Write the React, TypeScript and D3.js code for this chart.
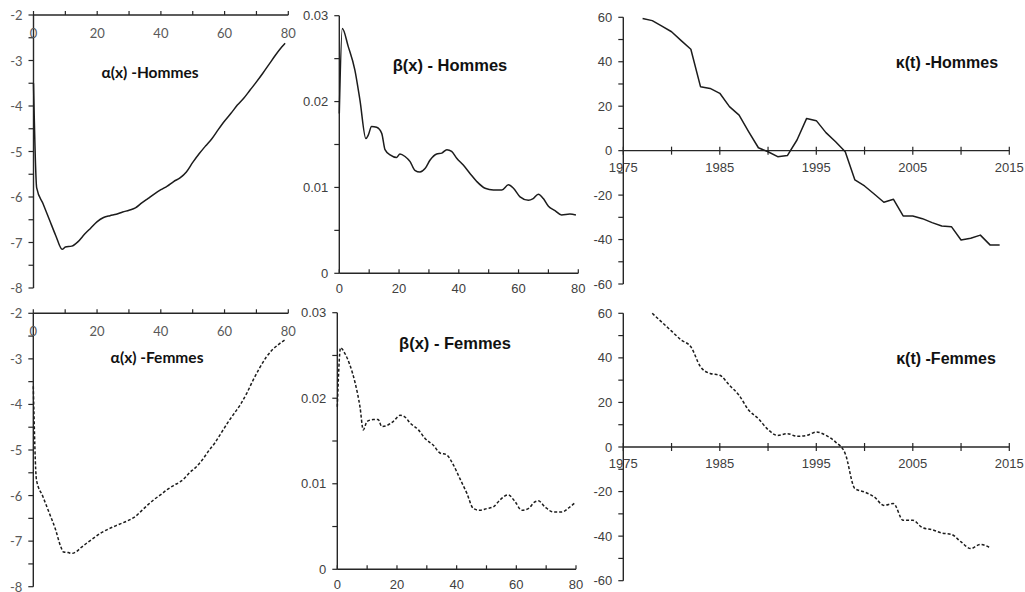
import React from "react";
import * as d3 from "d3";

// alpha(x) : log-mortalite moyenne par age
const alphaAgesH = [0, 1, 3, 5, 7, 9, 10, 12, 14, 16, 18, 20, 22, 24, 26, 28, 30, 32, 34, 36, 38, 40, 42, 44, 46, 48, 50, 52, 54, 56, 58, 60, 62, 64, 66, 68, 70, 72, 74, 76, 78, 79];
const alphaHommes = [-3.5, -5.8, -6.15, -6.5, -6.85, -7.15, -7.1, -7.08, -6.98, -6.82, -6.68, -6.54, -6.45, -6.41, -6.38, -6.33, -6.29, -6.24, -6.13, -6.03, -5.93, -5.84, -5.76, -5.66, -5.58, -5.45, -5.24, -5.05, -4.88, -4.72, -4.52, -4.33, -4.16, -3.98, -3.83, -3.65, -3.47, -3.28, -3.08, -2.88, -2.7, -2.62];
const alphaAgesF = [0, 1, 3, 5, 7, 8.5, 9.5, 11, 12, 13.5, 15, 17, 19, 21, 24, 27, 30, 32, 34, 36, 38, 40, 42, 44, 46, 47, 49, 51, 53, 55, 57, 59, 61, 63, 65, 67, 69, 71, 73, 75, 77, 79];
const alphaFemmes = [-3.6, -5.66, -6.02, -6.38, -6.75, -7.1, -7.24, -7.25, -7.27, -7.23, -7.14, -7.03, -6.93, -6.83, -6.72, -6.63, -6.54, -6.46, -6.33, -6.2, -6.08, -5.98, -5.87, -5.78, -5.7, -5.65, -5.5, -5.38, -5.22, -5.02, -4.84, -4.62, -4.4, -4.2, -4.0, -3.75, -3.46, -3.2, -2.97, -2.8, -2.68, -2.58];

// beta(x) : sensibilite par age
const betaAgesH = [0, 1, 3, 5.2, 6.9, 8.9, 9.7, 10.8, 12.5, 14.2, 15.3, 17, 19.2, 20.3, 22, 23.7, 25.3, 27, 28.7, 30.4, 32.6, 34.3, 36, 37.6, 39.3, 41.5, 43.8, 46, 48.8, 51.6, 54.4, 56.6, 58.3, 60.5, 63.3, 64.9, 66.6, 68.3, 70, 72.2, 74.4, 77.2, 79.2];
const betaHommes = [0.0186, 0.0285, 0.0264, 0.0237, 0.0202, 0.0157, 0.0161, 0.0171, 0.017, 0.0163, 0.0144, 0.0138, 0.0135, 0.0139, 0.0136, 0.013, 0.012, 0.0118, 0.0122, 0.0132, 0.0139, 0.014, 0.0144, 0.0142, 0.0134, 0.0126, 0.0116, 0.0107, 0.0099, 0.0097, 0.0097, 0.0103, 0.0099, 0.0089, 0.0085, 0.0087, 0.0092, 0.0087, 0.0078, 0.0073, 0.0068, 0.0069, 0.0068];
const betaAgesF = [0, 1.1, 2.6, 4.2, 5.9, 7.6, 8.7, 10, 12, 13.7, 14.9, 16.5, 18.8, 21, 22.7, 24.4, 27.2, 29.4, 32.2, 34.4, 36.6, 38.9, 41.1, 43.4, 45.6, 47.8, 50.1, 52.3, 54.5, 57.3, 59.6, 61.8, 64, 66.3, 67.4, 69.6, 72.4, 75.2, 78, 79.7];
const betaFemmes = [0.019, 0.0259, 0.0252, 0.0239, 0.0219, 0.019, 0.0163, 0.0173, 0.0175, 0.0175, 0.0167, 0.0168, 0.0173, 0.018, 0.0178, 0.0171, 0.0163, 0.0153, 0.0145, 0.0136, 0.0134, 0.0122, 0.0106, 0.0089, 0.0071, 0.0069, 0.0071, 0.0073, 0.0081, 0.0087, 0.0079, 0.0069, 0.0071, 0.0079, 0.008, 0.0073, 0.0067, 0.0067, 0.0073, 0.0078];

// kappa(t) : indice temporel
const yearsH = d3.range(1977, 2015);
const kappaHommes = [59.5, 58.5, 56, 53.5, 49.5, 45.6, 28.8, 28, 25.8, 19.8, 16, 8.5, 1.3, -0.5, -2.7, -2.2, 4.8, 14.5, 13.5, 8.1, 4.0, -0.5, -13.2, -15.9, -19.5, -23.2, -21.9, -29.4, -29.4, -30.6, -32.4, -33.9, -34.2, -40.2, -39.4, -38, -42.4, -42.4];
const yearsF = d3.range(1978, 2014);
const kappaFemmes = [60, 56, 52, 48, 45, 36, 33, 32.2, 27.7, 23.2, 16.5, 12.7, 7.8, 5.2, 6, 4.8, 5.2, 6.7, 5.2, 2.2, -3, -18.7, -20.2, -22.4, -26.2, -25.4, -32.9, -32.9, -36.2, -37.1, -38.6, -39.2, -42.6, -45.6, -43.7, -45.2];

const ageTicks = [0, 20, 40, 60, 80];
const yearTicks = [1975, 1985, 1995, 2005, 2015];
const alphaTicks = [-2, -3, -4, -5, -6, -7, -8];
const betaTicks = [0, 0.01, 0.02, 0.03];
const kappaTicks = [60, 40, 20, 0, -20, -40, -60];

const AXIS = "#262626";
const LINE = "#1c1c1c";
const ARIAL = "'Liberation Sans', Arial, sans-serif";
const CALIBRI = "Lato, 'Open Sans', sans-serif";

type PanelProps = {
  xs: number[];
  ys: number[];
  xDomain: [number, number];
  xRange: [number, number];
  yDomain: [number, number];
  yRange: [number, number];
  xAxisAt: number;
  xLabels: number[];
  xMinor: number[];
  xTickMode: "up" | "cross";
  xLabelDy: number;
  yLabels: number[];
  yMinor: number[];
  fmtY: (v: number) => string;
  font: string;
  fontSize: number;
  labelColor: string;
  title: string;
  titlePos: [number, number];
  titleFont: string;
  titleSize: number;
  dashed?: boolean;
  straight?: boolean;
};

const Panel = (p: PanelProps) => {
  const x = d3.scaleLinear().domain(p.xDomain).range(p.xRange);
  const y = d3.scaleLinear().domain(p.yDomain).range(p.yRange);
  const x0 = p.xRange[0];
  const ya = y(p.xAxisAt);
  const line = d3
    .line<number>()
    .x((d, i) => x(p.xs[i]))
    .y((d) => y(d))
    .curve(p.straight ? d3.curveLinear : d3.curveMonotoneX);

  return (
    <g>
      {/* y axis */}
      <line x1={x0} x2={x0} y1={p.yRange[0]} y2={p.yRange[1]} stroke={AXIS} strokeWidth={1.4} />
      {p.yLabels.concat(p.yMinor).map((v, i) => (
        <line key={"yt" + i} x1={x0 - 5} x2={x0} y1={y(v)} y2={y(v)} stroke={AXIS} strokeWidth={1.2} />
      ))}
      {p.yLabels.map((v, i) => (
        <text
          key={"yl" + i}
          x={x0 - 11}
          y={y(v)}
          textAnchor="end"
          dominantBaseline="central"
          fontFamily={p.font}
          fontSize={p.fontSize}
          fill={p.labelColor}
        >
          {p.fmtY(v)}
        </text>
      ))}

      {/* x axis */}
      <line x1={x0} x2={p.xRange[1]} y1={ya} y2={ya} stroke={AXIS} strokeWidth={1.4} />
      {p.xLabels.concat(p.xMinor).map((v, i) => (
        <line
          key={"xt" + i}
          x1={x(v)}
          x2={x(v)}
          y1={p.xTickMode === "cross" ? ya - 4 : ya - 4}
          y2={p.xTickMode === "cross" ? ya + 4 : ya}
          stroke={AXIS}
          strokeWidth={1.2}
        />
      ))}
      {p.xLabels.map((v, i) => (
        <text
          key={"xl" + i}
          x={x(v)}
          y={ya + p.xLabelDy}
          textAnchor="middle"
          fontFamily={p.font}
          fontSize={p.fontSize}
          fill={p.labelColor}
        >
          {v}
        </text>
      ))}

      <path
        d={line(p.ys) || ""}
        fill="none"
        stroke={LINE}
        strokeWidth={1.5}
        strokeDasharray={p.dashed ? "3,2" : undefined}
        strokeLinejoin="round"
      />

      <text
        x={p.titlePos[0]}
        y={p.titlePos[1]}
        textAnchor="middle"
        dominantBaseline="central"
        fontFamily={p.titleFont}
        fontWeight="bold"
        fontSize={p.titleSize}
        fill="#111"
      >
        {p.title}
      </text>
    </g>
  );
};

const alphaBase = {
  xDomain: [0, 80] as [number, number],
  yDomain: [-2, -8] as [number, number],
  xAxisAt: -2,
  xLabels: ageTicks,
  xMinor: [10, 30, 50, 70],
  xTickMode: "up" as const,
  xLabelDy: 23,
  yLabels: alphaTicks,
  yMinor: [-2.5, -3.5, -4.5, -5.5, -6.5, -7.5],
  fmtY: (v: number) => String(v),
  font: CALIBRI,
  fontSize: 13,
  labelColor: "#595959",
  titleFont: CALIBRI,
  titleSize: 15.5,
};

const betaBase = {
  xDomain: [0, 80] as [number, number],
  yDomain: [0, 0.03] as [number, number],
  xAxisAt: 0,
  xLabels: ageTicks,
  xMinor: [10, 30, 50, 70],
  xTickMode: "up" as const,
  xLabelDy: 20,
  yLabels: betaTicks,
  yMinor: [0.005, 0.015, 0.025],
  fmtY: (v: number) => (v === 0 ? "0" : d3.format(".2f")(v)),
  font: ARIAL,
  fontSize: 13,
  labelColor: "#404040",
  titleFont: ARIAL,
  titleSize: 16.5,
};

const kappaBase = {
  xDomain: [1975, 2015] as [number, number],
  xRange: [623.3, 1009.3] as [number, number],
  yDomain: [60, -60] as [number, number],
  xAxisAt: 0,
  xLabels: yearTicks,
  xMinor: [1980, 1990, 2000, 2010],
  xTickMode: "cross" as const,
  xLabelDy: 21,
  yLabels: kappaTicks,
  yMinor: [50, 30, 10, -10, -30, -50],
  fmtY: (v: number) => String(v),
  font: ARIAL,
  fontSize: 13,
  labelColor: "#404040",
  titleFont: ARIAL,
  titleSize: 16,
  straight: true,
};

const App = () => {
  return (
    <svg width={1025} height={592} style={{ position: "absolute", left: 0, top: 0, background: "#fff" }}>
      <Panel
        {...alphaBase}
        xs={alphaAgesH}
        ys={alphaHommes}
        xRange={[33.5, 288.3]}
        yRange={[15, 288]}
        title="α(x) -Hommes"
        titlePos={[150, 72]}
      />
      <Panel
        {...alphaBase}
        xs={alphaAgesF}
        ys={alphaFemmes}
        xRange={[33.3, 288.3]}
        yRange={[313.3, 586.7]}
        title="α(x) -Femmes"
        titlePos={[157, 357]}
        dashed
      />
      <Panel
        {...betaBase}
        xs={betaAgesH}
        ys={betaHommes}
        xRange={[339.3, 578.3]}
        yRange={[273.3, 15.7]}
        title="β(x) - Hommes"
        titlePos={[450, 65]}
      />
      <Panel
        {...betaBase}
        xs={betaAgesF}
        ys={betaFemmes}
        xRange={[337.3, 576]}
        yRange={[569.3, 312.7]}
        title="β(x) - Femmes"
        titlePos={[455, 343]}
        dashed
      />
      <Panel
        {...kappaBase}
        xs={yearsH}
        ys={kappaHommes}
        yRange={[17.3, 284]}
        title="κ(t) -Hommes"
        titlePos={[947, 62]}
      />
      <Panel
        {...kappaBase}
        xs={yearsF}
        ys={kappaFemmes}
        yRange={[313.3, 580.7]}
        title="κ(t) -Femmes"
        titlePos={[946, 358]}
        dashed
        straight={false}
      />
    </svg>
  );
};

export default App;
